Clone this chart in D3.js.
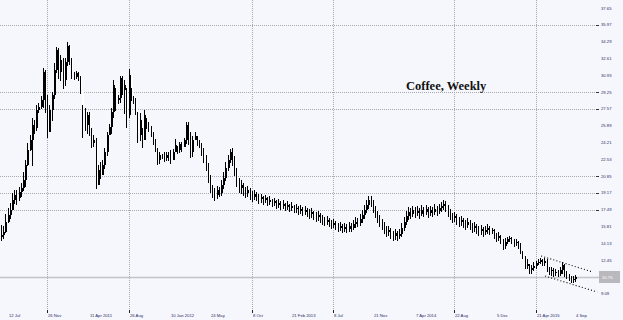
<!DOCTYPE html>
<html>
<head>
<meta charset="utf-8">
<script src="https://cdn.jsdelivr.net/npm/d3@7"></script>
<style>
html,body{margin:0;padding:0;background:#f6f7fc;}
svg{display:block;}
</style>
</head>
<body>
<svg id="chart" width="623" height="320"></svg>
<script>
// ---- data (weekly candles, price units) ----
const firstOpen = 14.75;
const closeP = [
14.95,15.25,16.25,16.95,17.45,18.45,18.95,18.65,19.25,19.65,
20.45,21.95,23.45,24.45,25.95,25.65,27.45,27.75,28.45,31.25,
28.45,25.25,27.45,28.95,31.45,33.45,31.25,32.45,30.45,32.25,
33.85,32.65,30.95,30.75,31.15,30.85,29.45,27.45,25.95,26.95,
25.15,24.15,24.45,19.95,21.45,20.95,21.95,23.25,24.95,25.75,
27.25,29.95,28.45,28.65,30.65,29.45,29.95,26.95,30.95,28.95,
28.45,27.45,24.95,26.45,24.45,26.95,25.95,25.65,25.15,24.45,
23.65,22.45,22.95,22.85,22.65,22.95,22.75,22.45,23.25,23.95,
23.45,24.05,23.75,24.45,25.95,24.45,23.25,24.45,24.85,24.25,
23.95,23.45,22.65,21.95,20.65,19.65,19.25,18.95,19.45,19.15,
19.95,20.65,21.65,22.45,23.25,22.65,21.45,20.45,19.65,19.95,
19.45,19.15,19.45,18.95,18.75,19.05,18.85,18.55,18.75,18.45,
18.65,18.25,18.45,18.15,18.35,17.95,18.15,17.85,18.05,17.75,
17.95,17.65,17.85,17.55,17.65,17.35,17.55,17.25,17.45,17.15,
17.05,17.25,16.95,16.75,16.95,16.65,16.45,16.25,16.45,16.15,
15.95,16.15,15.85,15.65,15.85,15.55,15.75,15.55,15.85,15.65,
16.05,16.25,16.15,16.55,16.95,17.45,17.95,18.45,18.25,17.65,
17.15,16.65,16.25,15.95,15.55,15.25,15.45,15.05,14.85,15.15,
14.85,15.05,15.65,16.25,16.85,17.25,17.05,17.45,17.15,17.35,
17.05,17.45,17.25,17.55,17.15,17.45,17.25,17.55,17.35,17.65,
17.85,18.05,17.75,17.25,16.95,16.65,16.85,16.45,16.25,16.45,
16.15,15.95,16.25,15.95,15.65,15.85,15.55,15.35,15.55,15.25,
15.45,15.65,15.35,15.45,14.95,14.65,14.85,14.45,13.85,14.25,
14.55,14.65,14.45,14.15,14.25,13.95,13.45,12.95,11.85,12.05,
11.45,11.65,11.85,12.15,12.25,12.45,12.15,12.35,11.65,11.35,
11.45,11.15,11.25,11.05,11.45,11.95,11.15,10.95,10.65,10.45,
10.55,10.75];
const highP = [
15.95,15.85,17.05,17.65,18.15,19.15,19.45,19.45,19.75,20.15,
21.25,22.45,24.15,24.95,26.65,26.45,27.95,28.15,28.85,31.65,
31.45,28.95,27.95,29.25,32.15,33.75,33.65,32.95,32.65,32.65,
34.25,33.95,32.65,31.25,31.35,31.25,30.85,27.95,27.65,27.25,
27.25,25.65,24.95,24.65,21.95,22.25,22.45,23.65,25.25,26.05,
27.65,30.45,29.65,28.95,30.85,30.85,30.45,29.65,31.55,29.65,
28.85,28.65,27.25,27.15,25.65,27.45,26.65,26.25,25.85,25.25,
24.55,23.65,23.25,23.05,23.25,23.25,23.25,23.45,23.55,24.55,
23.85,24.25,24.25,24.65,26.25,26.25,25.25,24.85,25.25,24.85,
24.45,24.15,23.65,22.95,22.15,20.95,19.95,19.65,19.85,19.75,
20.45,21.25,22.25,22.95,23.55,23.65,22.85,21.65,20.65,20.45,
20.15,19.75,19.85,19.65,19.35,19.45,19.25,19.05,19.05,18.85,
18.95,18.75,18.85,18.55,18.65,18.45,18.55,18.35,18.45,18.15,
18.35,18.05,18.25,17.95,18.05,17.85,17.95,17.75,17.85,17.65,
17.55,17.65,17.35,17.25,17.35,17.15,16.95,16.75,16.85,16.65,
16.45,16.55,16.35,16.15,16.25,16.05,16.15,16.05,16.25,16.15,
16.45,16.75,16.65,17.05,17.45,17.95,18.45,18.85,18.85,18.45,
17.85,17.35,16.95,16.55,16.25,15.85,15.85,15.65,15.35,15.55,
15.35,15.55,16.15,16.75,17.35,17.75,17.65,17.85,17.75,17.85,
17.65,17.95,17.75,17.95,17.75,17.85,17.75,18.05,17.85,18.05,
18.25,18.45,18.35,17.95,17.55,17.15,17.25,17.05,16.75,16.85,
16.65,16.45,16.65,16.45,16.15,16.25,16.05,15.85,15.95,15.75,
15.85,16.05,15.85,15.65,15.55,15.15,15.25,14.95,14.55,14.65,
14.75,14.85,14.75,14.55,14.55,14.35,14.15,13.35,12.85,12.55,
12.05,11.95,12.25,12.35,12.55,12.65,12.55,12.65,12.55,11.75,
11.75,11.65,11.55,11.45,11.75,12.25,12.05,11.35,11.05,10.85,
10.85,10.95];
const lowP = [
14.45,14.65,15.25,16.25,16.65,17.65,18.15,18.05,18.45,18.85,
19.45,19.85,21.95,23.45,21.95,25.15,25.45,27.25,27.65,27.75,
27.25,24.75,25.45,26.45,28.65,31.25,30.65,30.45,29.65,29.95,
31.95,32.05,30.65,30.55,30.65,30.45,29.15,24.75,25.45,25.15,
24.95,23.75,23.85,19.65,20.15,20.65,21.25,21.65,22.95,25.15,
25.15,26.75,27.45,28.15,28.25,29.05,27.15,25.75,26.75,28.45,
28.15,27.05,24.25,24.45,23.75,24.65,25.65,25.35,24.85,24.05,
23.35,22.05,22.15,22.65,22.35,22.45,22.45,22.15,22.85,23.35,
23.15,23.25,23.35,23.85,24.15,24.05,22.75,22.85,24.55,23.95,
23.75,22.95,22.25,21.45,20.25,19.25,18.75,18.45,18.65,18.85,
18.95,19.65,20.45,21.45,22.25,21.95,20.95,19.85,19.25,19.15,
18.95,18.75,18.85,18.55,18.35,18.55,18.45,18.15,18.25,18.05,
18.25,17.95,18.05,17.85,17.95,17.65,17.75,17.55,17.65,17.45,
17.55,17.35,17.45,17.25,17.25,17.05,17.15,16.95,17.05,16.85,
16.65,16.75,16.55,16.35,16.45,16.25,16.05,15.95,16.05,15.85,
15.65,15.75,15.55,15.35,15.45,15.25,15.35,15.25,15.35,15.35,
15.55,15.75,15.85,15.95,16.25,16.65,17.25,17.65,17.85,17.25,
16.75,16.25,15.85,15.55,15.15,14.85,14.95,14.65,14.45,14.55,
14.45,14.65,14.85,15.45,16.05,16.55,16.65,16.85,16.75,16.95,
16.65,16.95,16.85,17.05,16.75,16.95,16.85,17.05,16.95,17.15,
17.35,17.55,17.35,16.85,16.55,16.25,16.35,16.05,15.85,15.95,
15.75,15.55,15.75,15.55,15.25,15.35,15.15,14.95,15.05,14.85,
15.05,15.15,15.05,15.15,14.65,14.35,14.45,14.15,13.55,13.65,
14.15,14.35,14.15,13.85,13.95,13.65,13.15,12.65,11.65,11.65,
11.15,11.15,11.45,11.65,12.05,12.15,11.95,11.95,11.35,11.05,
10.95,10.85,10.95,10.85,10.95,11.15,10.85,10.65,10.45,10.25,
10.25,10.35];

const yTickValues = [37.65,35.97,34.29,32.61,30.93,29.25,27.57,25.89,24.21,22.53,20.85,19.17,17.49,15.81,14.13,12.45,10.77,9.09];
const yGridTicks = [35.97,29.25,27.57,20.85,19.17,17.49];
const xTickIndex = [3,21,40,58,77,95,114,132,151,169,188,206,225,243,261];
const xTickLabels = ["12 Jul","26 Nov","11 Apr 2011","26 Aug","10 Jan 2012","24 May","8 Oct","21 Feb 2013","8 Jul","21 Nov","7 Apr 2014","22 Aug","5 Dec","21 Apr 2015","4 Sep"];
const xGridIndex = [21,58,114,151,206,243];
const lastPrice = 10.75;
const trendUpper = [[245.5,12.85],[269,11.25]];
const trendLower = [[247.3,10.85],[271,9.25]];
const titleText = "Coffee, Weekly";

// ---- drawing ----
const svg = d3.select("#chart");
const W = 623, H = 320, plotRight = 599;
svg.append("rect").attr("width",W).attr("height",H).attr("fill","#f6f7fc");

const x = d3.scaleLinear().domain([0, 261]).range([1, 575.2]);
const y = d3.scaleLinear().domain([6.45, 38.45]).range([320, 0]);

const candles = closeP.map((c,i)=>({i, o: i===0?firstOpen:closeP[i-1], c, h: highP[i], l: lowP[i]}));

// grid
const g = svg.append("g");
g.selectAll(".hg").data(yGridTicks).join("line")
  .attr("x1",0).attr("x2",plotRight-2)
  .attr("y1",d=>Math.round(y(d))+0.5).attr("y2",d=>Math.round(y(d))+0.5)
  .attr("stroke","#a8a8b0").attr("stroke-dasharray","1,1");
g.selectAll(".hgt").data(yGridTicks).join("line")
  .attr("x1",plotRight-3).attr("x2",plotRight)
  .attr("y1",d=>Math.round(y(d))+0.5).attr("y2",d=>Math.round(y(d))+0.5)
  .attr("stroke","#333");
g.selectAll(".vg").data(xGridIndex).join("line")
  .attr("x1",d=>Math.round(x(d))+0.5).attr("x2",d=>Math.round(x(d))+0.5)
  .attr("y1",0).attr("y2",310)
  .attr("stroke","#a8a8b0").attr("stroke-dasharray","1,1");
g.selectAll(".vgt").data(xGridIndex).join("line")
  .attr("x1",d=>Math.round(x(d))+0.5).attr("x2",d=>Math.round(x(d))+0.5)
  .attr("y1",310).attr("y2",313)
  .attr("stroke","#222");

// last price line
svg.append("line").attr("x1",0).attr("x2",plotRight)
  .attr("y1",Math.round(y(lastPrice))+0.5).attr("y2",Math.round(y(lastPrice))+0.5)
  .attr("stroke","#c4c4c8").attr("stroke-width",1.3);

// candles
const cg = svg.append("g");
candles.forEach(d=>{
  const cx = Math.round(x(d.i));
  const up = d.c >= d.o;
  const top = y(Math.max(d.o,d.c)), bot = y(Math.min(d.o,d.c));
  cg.append("rect").attr("x",cx).attr("width",2)
    .attr("y",Math.round(top)).attr("height",Math.max(1,Math.round(bot)-Math.round(top)))
    .attr("fill", up ? "#000" : "#ffffff");
  cg.append("line").attr("x1",cx+0.5).attr("x2",cx+0.5)
    .attr("y1",Math.round(y(d.h))).attr("y2",Math.round(y(d.l))+1)
    .attr("stroke","#000").attr("stroke-width",1);
});

// trend lines
const tl = d3.line().x(d=>x(d[0])).y(d=>y(d[1]));
[trendUpper,trendLower].forEach(t=>{
  svg.append("path").attr("d",tl(t)).attr("fill","none")
    .attr("stroke","#000").attr("stroke-width",1.1).attr("stroke-dasharray","1,2.2");
});

// y labels
svg.selectAll(".yl").data(yTickValues).join("text")
  .attr("x",601).attr("y",d=>y(d)+1.5)
  .attr("font-family","Arial, 'Liberation Sans', sans-serif").attr("font-size",4.2)
  .attr("fill","#2a2a66").text(d=>d.toFixed(2));

// last price box
svg.append("rect").attr("x",599).attr("y",Math.round(y(lastPrice))-6).attr("width",21).attr("height",12)
  .attr("fill","#b9b9bd");
svg.append("text").attr("x",602).attr("y",y(lastPrice)+1.6)
  .attr("font-family","Arial, 'Liberation Sans', sans-serif").attr("font-size",4.2)
  .attr("fill","#ffffff").text(lastPrice.toFixed(2));

// x labels
svg.selectAll(".xl").data(xTickIndex).join("text")
  .attr("x",d=>Math.round(x(d))+1).attr("y",317)
  .attr("font-family","Arial, 'Liberation Sans', sans-serif").attr("font-size",4.2)
  .attr("fill","#2a2a66").text((d,i)=>xTickLabels[i]);

// title
svg.append("text").attr("x",406).attr("y",90)
  .attr("font-family","'Liberation Serif','Times New Roman',serif").attr("font-weight","bold")
  .attr("font-size",12.5).attr("fill","#111").text(titleText);
</script>
</body>
</html>
